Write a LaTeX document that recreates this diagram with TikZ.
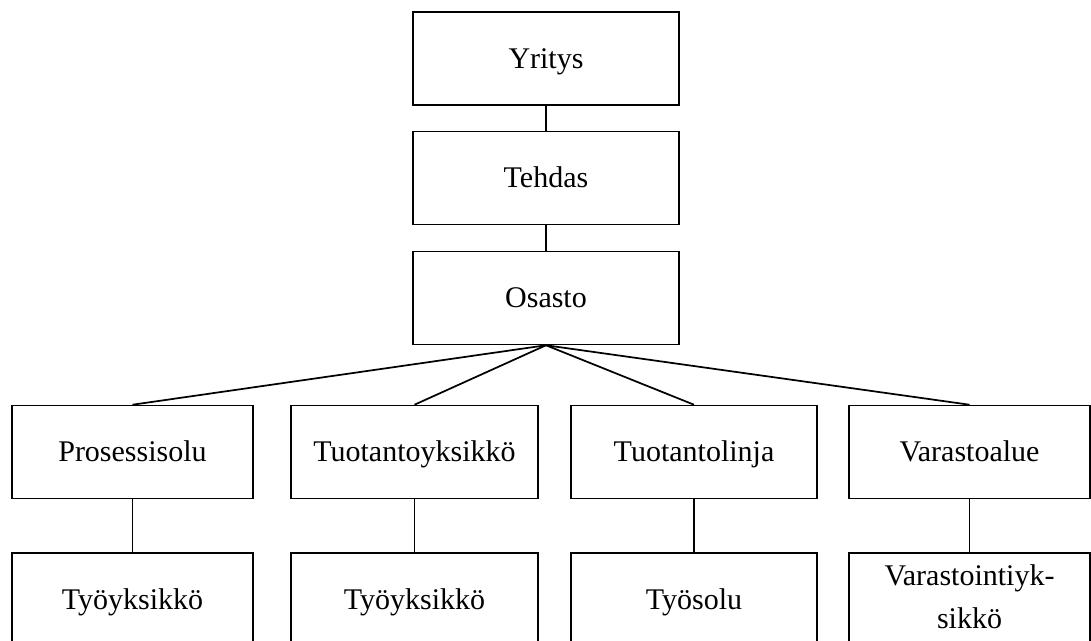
\documentclass[tikz,border=0pt]{standalone}
\usepackage{fontspec}
\setmainfont{Liberation Serif}
\begin{document}
\begin{tikzpicture}[x=0.75pt,y=-0.75pt,
  box/.style={draw, line width=1.3pt, inner sep=0pt, minimum height=69.6pt,
    font=\fontsize{22.5}{32}\selectfont, align=center,
    text height=14.9pt, text depth=0pt},
  link/.style={line width=1.3pt}]
\useasboundingbox (0,0) rectangle (1091,641);
\clip (0,0) rectangle (1091,641);
% upper chain
\node[box, minimum width=199.5pt] (yritys) at (546,58.5) {Yritys};
\node[box, minimum width=199.5pt] (tehdas) at (546,178) {Tehdas};
\node[box, minimum width=199.5pt] (osasto) at (546,298) {Osasto};
% second level
\node[box, minimum width=180.75pt] (proc) at (132.5,452) {Prosessisolu};
\node[box, minimum width=185.25pt] (prod) at (414.5,452) {Tuotantoyksikkö};
\node[box, minimum width=184.5pt] (line) at (694,452) {Tuotantolinja};
\node[box, minimum width=180.75pt] (stor) at (969.5,452) {Varastoalue};
% third level
\node[box, minimum width=180.75pt] (procu) at (132.5,599.5) {Työyksikkö};
\node[box, minimum width=185.25pt] (produ) at (414.5,599.5) {Työyksikkö};
\node[box, minimum width=184.5pt] (lineu) at (694,599.5) {Työsolu};
\node[box, minimum width=180.75pt, text height=42.75pt] (storu) at (969.5,599.5) {Varastointiyk-\\sikkö};
% connectors
\draw[link] (yritys.south) -- (tehdas.north);
\draw[link] (tehdas.south) -- (osasto.north);
\foreach \n in {proc,prod,line,stor}{
  \draw[link] (osasto.south) -- (\n.north);
}
\draw[link] (proc.south) -- (procu.north);
\draw[link] (prod.south) -- (produ.north);
\draw[link] (line.south) -- (lineu.north);
\draw[link] (stor.south) -- (storu.north);
\end{tikzpicture}
\end{document}
